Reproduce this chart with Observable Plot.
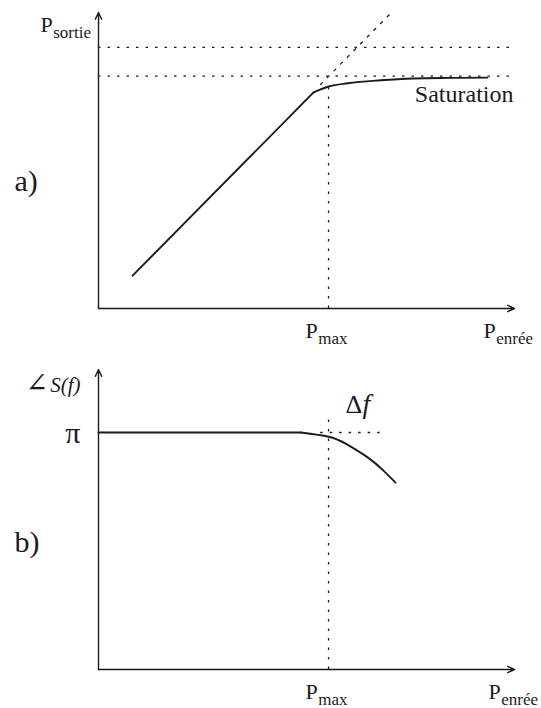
<!DOCTYPE html>
<html>
<head>
<meta charset="utf-8">
<script src="https://cdn.jsdelivr.net/npm/d3@7"></script>
<script src="https://cdn.jsdelivr.net/npm/@observablehq/plot@0.6"></script>
<style>
  html, body { margin: 0; padding: 0; background: #fff; }
  #chart { width: 541px; }
  #chart svg { display: block; overflow: hidden; }
  #chart svg text { font-family: "Liberation Serif", "DejaVu Serif", "Noto Serif", Times, serif; }
</style>
</head>
<body>
<div id="chart"></div>
<script>
// ---- a) output power versus input power (arbitrary units, 0–100) ----
const linearIn  = [8.2, 51.7];
const linearOut = [11.1, 73];
const satIn  = [51.7, 55.3, 59.9, 67.8, 75.7, 84.6, 93.5];
const satOut = [73, 75, 76.1, 77.1, 77.7, 77.9, 78.0];
const extrapIn  = [53.4, 70.9];
const extrapOut = [75.7, 100.7];
const pMax = 55.3;
const satLevel = 78.5;
const upperLevel = 88.2;

// ---- b) phase of S(f) versus input power ----
const flatIn  = [0, 48.6];
const flatOut = [79, 79];
const phaseIn  = [48.6, 55.3, 59.4, 64.7, 68.5, 71.4];
const phaseOut = [79, 77.6, 75.3, 70.7, 66.3, 62.3];
const piLevel = 79;
const deltaRefIn = [53.4, 68.5];
const phaseMarkTop = 85.3;

// ---- text ----
const xTickLabel = ["P", "max"];
const xAxisLabel = ["P", "enrée"];
const yAxisLabelA = ["P", "sortie"];
const yAxisLabelB = ["∠", "S(f)"];
const yTickLabelB = "π";
const deltaLabel = ["Δ", "f"];
const saturationLabel = "Saturation";
const panelLabels = ["a)", "b)"];

const serif = "Liberation Serif";
const ink = "#1b1b1b";
const pts = (xs, ys) => xs.map((x, i) => ({x, y: ys[i]}));
const dotted = {stroke: ink, strokeWidth: 1.3, strokeDasharray: "2.5,7"};

// single text mark anchored on a data point
function label(x, y, text, opts) {
  return Plot.text([{x, y}], {x: "x", y: "y", text: () => text, textAnchor: "start", lineAnchor: "bottom",
    fontFamily: serif, fill: ink, ...opts});
}

// main text + subscript, anchored on a data point
function subLabel(x, y, [main, sub], dx, dy, mainSize = 22, subSize = 17) {
  const w = mainSize * 0.556;
  return [
    label(x, y, main, {dx, dy, fontSize: mainSize}),
    label(x, y, sub, {dx: dx + w + 0.5, dy: dy + 6, fontSize: subSize})
  ];
}

function axes() {
  return [
    Plot.arrow([{x1: 0, y1: 0, x2: 100, y2: 0}], {x1: "x1", y1: "y1", x2: "x2", y2: "y2",
      stroke: ink, strokeWidth: 1.4, headLength: 8, headAngle: 50}),
    Plot.arrow([{x1: 0, y1: 0, x2: 0, y2: 100}], {x1: "x1", y1: "y1", x2: "x2", y2: "y2",
      stroke: ink, strokeWidth: 1.4, headLength: 8, headAngle: 50})
  ];
}

const common = {
  width: 541,
  marginLeft: 98,
  marginRight: 27,
  x: {domain: [0, 100], axis: null},
  y: {domain: [0, 100], axis: null},
  style: {background: "#fff"}
};

// Panel a
const chartA = Plot.plot({
  ...common,
  height: 350,
  marginTop: 12,
  marginBottom: 42,
  marks: [
    Plot.ruleY([upperLevel, satLevel], {x1: 0, x2: 100, ...dotted}),
    Plot.ruleX([pMax], {y1: 0, y2: satOut[1] + 0.5, ...dotted}),
    Plot.line(pts(extrapIn, extrapOut), {x: "x", y: "y", ...dotted}),
    Plot.line(pts(linearIn, linearOut), {x: "x", y: "y", stroke: ink, strokeWidth: 1.9}),
    Plot.line(pts(satIn, satOut), {x: "x", y: "y", stroke: ink, strokeWidth: 1.9, curve: "monotone-x"}),
    ...axes(),
    ...subLabel(0, 100, yAxisLabelA, -58, 19),
    ...subLabel(pMax, 0, xTickLabel, -23, 29),
    ...subLabel(100, 0, xAxisLabel, -31, 29),
    label(100, satLevel, saturationLabel, {textAnchor: "end", dx: -1, dy: 26, fontSize: 24}),
    label(0, 0, panelLabels[0], {dx: -84, dy: -118, fontSize: 30})
  ]
});

// Panel b
const chartB = Plot.plot({
  ...common,
  height: 358,
  marginTop: 19,
  marginBottom: 39,
  marks: [
    Plot.ruleY([piLevel], {x1: deltaRefIn[0], x2: deltaRefIn[1], ...dotted}),
    Plot.ruleX([pMax], {y1: 0, y2: phaseMarkTop, ...dotted}),
    Plot.line(pts(flatIn, flatOut), {x: "x", y: "y", stroke: ink, strokeWidth: 1.9}),
    Plot.line(pts(phaseIn, phaseOut), {x: "x", y: "y", stroke: ink, strokeWidth: 1.9, curve: "natural"}),
    ...axes(),
    label(0, 100, yAxisLabelB[0], {dx: -73, dy: 22, fontSize: 27}),
    label(0, 100, yAxisLabelB[1], {textAnchor: "end", dx: -18, dy: 22, fontStyle: "italic", fontSize: 21}),
    label(0, piLevel, yTickLabelB, {textAnchor: "end", dx: -18, dy: 10, fontSize: 30}),
    label(pMax, piLevel, deltaLabel[0], {dx: 17, dy: -20, fontSize: 26}),
    label(pMax, piLevel, deltaLabel[1], {dx: 34, dy: -20, fontStyle: "italic", fontSize: 28}),
    ...subLabel(pMax, 0, xTickLabel, -23, 29),
    ...subLabel(100, 0, xAxisLabel, -26, 29),
    label(0, 0, panelLabels[1], {dx: -84, dy: -118, fontSize: 30})
  ]
});

document.getElementById("chart").append(chartA, chartB);
</script>
</body>
</html>
